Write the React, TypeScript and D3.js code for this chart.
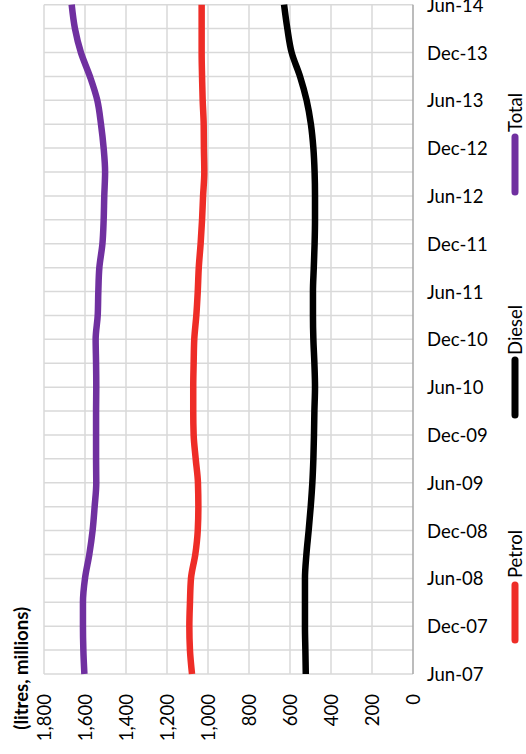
import React from "react";
import * as d3 from "d3";

const quarterLabels = ["Jun-07","Sep-07","Dec-07","Mar-08","Jun-08","Sep-08","Dec-08","Mar-09","Jun-09","Sep-09","Dec-09","Mar-10","Jun-10","Sep-10","Dec-10","Mar-11","Jun-11","Sep-11","Dec-11","Mar-12","Jun-12","Sep-12","Dec-12","Mar-13","Jun-13","Sep-13","Dec-13","Mar-14","Jun-14"];

const totalValues = [1603,1608,1610,1610,1600,1579,1563,1553,1545,1546,1546,1546,1545,1546,1548,1538,1535,1530,1515,1509,1506,1502,1509,1522,1540,1576,1620,1649,1665];
const petrolValues = [1078,1088,1091,1088,1083,1062,1050,1047,1049,1060,1070,1072,1072,1070,1067,1057,1050,1045,1036,1029,1024,1018,1020,1021,1026,1029,1031,1031,1031];
const dieselValues = [523,525,527,527,527,520,509,499,491,486,483,481,478,481,486,488,488,484,480,478,478,480,486,498,519,551,592,613,629];

const valueTicks = [0,200,400,600,800,1000,1200,1400,1600,1800];
const dateTickLabels = ["Jun-07","Dec-07","Jun-08","Dec-08","Jun-09","Dec-09","Jun-10","Dec-10","Jun-11","Dec-11","Jun-12","Dec-12","Jun-13","Dec-13","Jun-14"];

const seriesNames = ["Total","Diesel","Petrol"];
const seriesColors = ["#7030A0","#000000","#EE2D27"];

const W = 526, H = 754;
const FONT = "Lato, 'Open Sans', sans-serif";

export default function App() {
  const x = d3.scaleLinear().domain([0, 1800]).range([413, 44]);
  const y = d3.scaleLinear().domain([0, quarterLabels.length - 1]).range([674, 4.7]);
  const line = d3.line<number>()
    .x((d) => x(d))
    .y((_, i) => y(i))
    .curve(d3.curveMonotoneY);

  const series = [
    { name: "Petrol", values: petrolValues, color: seriesColors[2] },
    { name: "Diesel", values: dieselValues, color: seriesColors[1] },
    { name: "Total", values: totalValues, color: seriesColors[0] },
  ];

  const legendPos = [
    { line: [137, 192], text: 132 },
    { line: [360, 415], text: 355 },
    { line: [585, 640], text: 578 },
  ];

  return (
    <svg width={W} height={H} style={{ position: "absolute", left: 0, top: 0, background: "#fff" }} fontFamily={FONT}>
      {/* horizontal gridlines (quarters) */}
      {quarterLabels.map((q, i) => (
        <line key={"h" + q} x1={44} x2={413} y1={y(i)} y2={y(i)} stroke="#D9D9D9" strokeWidth={1.5} />
      ))}
      {/* vertical gridlines (values) */}
      {valueTicks.filter((v) => v > 0).map((v) => (
        <line key={"v" + v} x1={x(v)} x2={x(v)} y1={y(0)} y2={y(quarterLabels.length - 1)} stroke="#D9D9D9" strokeWidth={1.5} />
      ))}
      {/* category axis line */}
      <line x1={x(0)} x2={x(0)} y1={y(0)} y2={y(quarterLabels.length - 1)} stroke="#A6A6A6" strokeWidth={1.5} />

      {/* series */}
      {series.map((s) => (
        <path key={s.name} d={line(s.values) || ""} fill="none" stroke={s.color} strokeWidth={6.5} strokeLinejoin="round" />
      ))}

      {/* date labels */}
      {dateTickLabels.map((lab) => {
        const i = quarterLabels.indexOf(lab);
        return (
          <text key={lab} x={427} y={y(i)} dominantBaseline="central" fontSize={18.5} fill="#000">{lab}</text>
        );
      })}

      {/* value labels */}
      {valueTicks.map((v) => (
        <text key={"t" + v} transform={`translate(${x(v)},694) rotate(-90)`} textAnchor="end" dominantBaseline="central" fontSize={18.5} fill="#000">
          {d3.format(",")(v)}
        </text>
      ))}

      {/* axis title */}
      <text transform="translate(21,607) rotate(-90)" textAnchor="end" dominantBaseline="central" fontSize={18.5} fontWeight="bold" fill="#000">
        (litres, millions)
      </text>

      {/* legend */}
      {seriesNames.map((n, k) => (
        <g key={n}>
          <line x1={515} x2={515} y1={legendPos[k].line[0]} y2={legendPos[k].line[1]} stroke={seriesColors[k]} strokeWidth={7} strokeLinecap="round" />
          <text transform={`translate(515,${legendPos[k].text}) rotate(-90)`} dominantBaseline="central" fontSize={18.5} fill="#000">{n}</text>
        </g>
      ))}
    </svg>
  );
}
